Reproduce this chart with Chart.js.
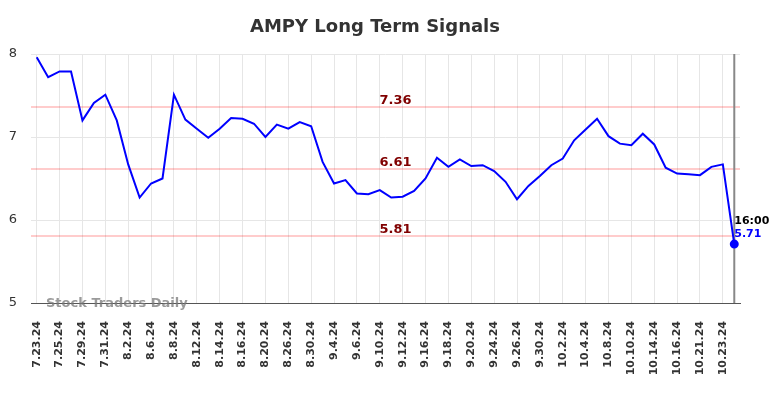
<!DOCTYPE html>
<html>
<head>
<meta charset="utf-8">
<script src="https://cdn.jsdelivr.net/npm/chart.js@4"></script>
<style>
  html, body { margin: 0; padding: 0; background: #fff; }
  #wrap { width: 784px; height: 398px; position: relative; }
</style>
</head>
<body>
<div id="wrap"><canvas id="c" width="784" height="398"></canvas></div>
<script>
const chartTitle = "AMPY Long Term Signals";
const watermark = "Stock Traders Daily";
const dates = [
  "7.23.24","7.24.24","7.25.24","7.26.24","7.29.24","7.30.24","7.31.24","8.1.24","8.2.24","8.5.24",
  "8.6.24","8.7.24","8.8.24","8.9.24","8.12.24","8.13.24","8.14.24","8.15.24","8.16.24","8.19.24",
  "8.20.24","8.22.24","8.26.24","8.28.24","8.30.24","9.3.24","9.4.24","9.5.24","9.6.24","9.9.24",
  "9.10.24","9.11.24","9.12.24","9.13.24","9.16.24","9.17.24","9.18.24","9.19.24","9.20.24","9.23.24",
  "9.24.24","9.25.24","9.26.24","9.27.24","9.30.24","10.1.24","10.2.24","10.3.24","10.4.24","10.7.24",
  "10.8.24","10.9.24","10.10.24","10.11.24","10.14.24","10.15.24","10.16.24","10.18.24","10.21.24","10.22.24",
  "10.23.24","10.24.24"
];
const prices = [
  7.96,7.72,7.79,7.79,7.20,7.41,7.51,7.20,6.67,6.27,
  6.44,6.50,7.51,7.21,7.10,6.99,7.10,7.23,7.22,7.16,
  7.00,7.15,7.10,7.18,7.13,6.70,6.44,6.48,6.32,6.31,
  6.36,6.27,6.28,6.35,6.50,6.75,6.64,6.73,6.65,6.66,
  6.59,6.46,6.25,6.41,6.53,6.66,6.74,6.96,7.09,7.22,
  7.01,6.92,6.90,7.04,6.91,6.63,6.56,6.55,6.54,6.64,
  6.67,5.71
];
const signalLevels = [7.36, 6.61, 5.81];
const yTicks = [5, 6, 7, 8];
const lastTime = "16:00";

const overlay = {
  id: 'overlay',
  beforeDatasetsDraw(chart) {
    const { ctx, chartArea: a, scales: { x, y } } = chart;
    ctx.save();
    ctx.strokeStyle = 'rgba(255,0,0,0.2)';
    ctx.lineWidth = 2;
    signalLevels.forEach(v => {
      const py = Math.round(y.getPixelForValue(v));
      ctx.beginPath(); ctx.moveTo(a.left, py); ctx.lineTo(a.right, py); ctx.stroke();
    });
    const lx = x.getPixelForValue(prices.length - 1);
    ctx.strokeStyle = '#888';
    ctx.lineWidth = 2;
    ctx.beginPath(); ctx.moveTo(lx, a.top); ctx.lineTo(lx, a.bottom); ctx.stroke();
    ctx.restore();
  },
  afterDatasetsDraw(chart) {
    const { ctx, scales: { x, y } } = chart;
    ctx.save();
    ctx.font = 'bold 13px "DejaVu Sans"';
    ctx.fillStyle = '#800000';
    ctx.textAlign = 'center';
    ctx.textBaseline = 'alphabetic';
    signalLevels.forEach(v => {
      const py = y.getPixelForValue(v);
      ctx.fillText(v.toFixed(2), 395.5, py - 3);
    });
    const li = prices.length - 1;
    const lx = x.getPixelForValue(li);
    const ly = y.getPixelForValue(prices[li]);
    ctx.textAlign = 'left';
    ctx.font = 'bold 11px "DejaVu Sans"';
    ctx.fillStyle = '#000';
    ctx.fillText(lastTime, lx, ly - 20);
    ctx.fillStyle = '#0000ff';
    ctx.fillText(prices[li].toFixed(2), lx, ly - 7);
    ctx.font = 'bold 13px "DejaVu Sans"';
    ctx.fillStyle = 'rgba(120,120,120,0.75)';
    ctx.fillText(watermark, 46, 307);
    ctx.font = 'bold 18px "DejaVu Sans"';
    ctx.fillStyle = '#333';
    ctx.textAlign = 'center';
    ctx.fillText(chartTitle, 375, 32);
    ctx.restore();
  }
};

new Chart(document.getElementById('c'), {
  type: 'line',
  data: {
    labels: dates,
    datasets: [{
      data: prices,
      borderColor: '#0000ff',
      backgroundColor: '#0000ff',
      borderWidth: 2,
      tension: 0,
      pointRadius: ctx => ctx.dataIndex === prices.length - 1 ? 3.5 : 0,
      pointHoverRadius: 0,
      fill: false
    }]
  },
  options: {
    responsive: false,
    animation: false,
    devicePixelRatio: 1,
    layout: { padding: { top: 54, right: 44, bottom: 0, left: 0 } },
    plugins: { legend: { display: false }, title: { display: false }, tooltip: { enabled: false } },
    scales: {
      x: {
        offset: true,
        grid: { color: '#e6e6e6', lineWidth: 1, drawTicks: false, offset: false },
        border: { color: '#555', width: 1 },
        ticks: {
          autoSkip: false,
          minRotation: 90,
          maxRotation: 90,
          padding: 18,
          color: '#333',
          font: { family: '"DejaVu Sans"', size: 11, weight: 'bold' },
          callback: (v, i) => (i % 2 === 0 ? dates[i] : null)
        },
        afterFit: s => { s.height = 95; }
      },
      y: {
        min: 5, max: 8,
        afterBuildTicks: s => { s.ticks = yTicks.map(v => ({ value: v })); },
        grid: { color: '#e6e6e6', lineWidth: 1, drawTicks: false },
        border: { display: false },
        ticks: {
          padding: 14,
          color: '#333',
          font: { family: '"DejaVu Sans"', size: 13 }
        },
        afterFit: s => { s.width = 31; }
      }
    }
  },
  plugins: [overlay]
});
</script>
</body>
</html>
